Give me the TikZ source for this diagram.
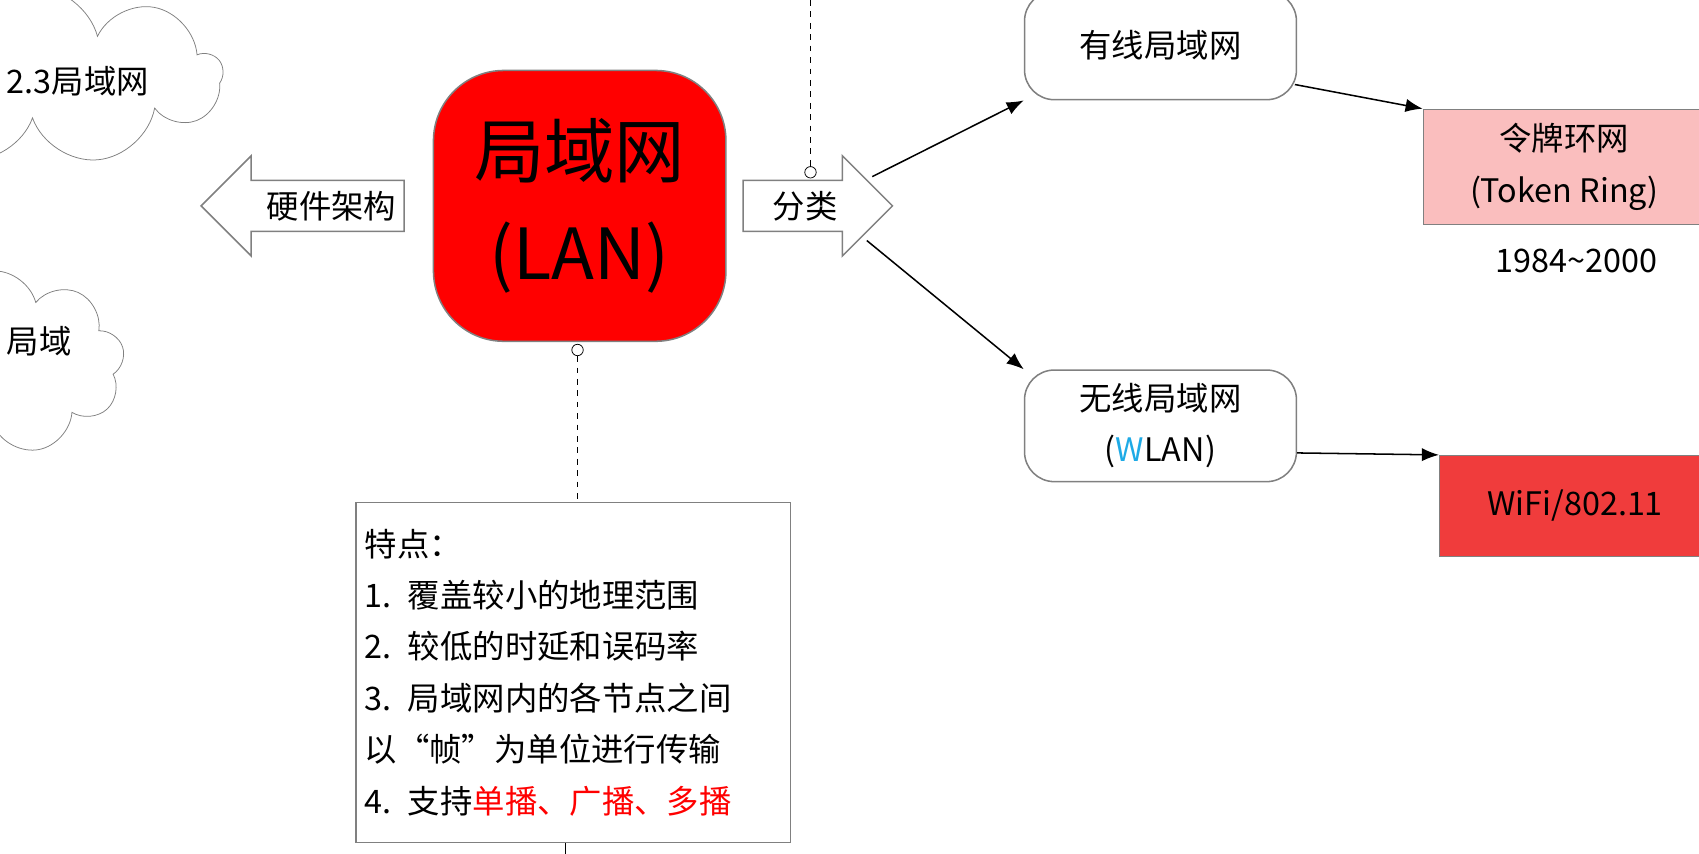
\documentclass[tikz,border=0pt]{standalone}
\usepackage{fontspec}
\setmainfont{Noto Sans CJK SC}
\usetikzlibrary{shapes.symbols,shapes.arrows,arrows.meta}
\definecolor{lanred}{RGB}{255,0,0}
\definecolor{tokpink}{RGB}{250,190,190}
\definecolor{wifired}{RGB}{240,60,60}
\definecolor{wblue}{RGB}{30,170,230}
\begin{document}
\begin{tikzpicture}[x=0.02cm, y=-0.02cm,
	every node/.style={font=\fontsize{17}{27}\selectfont, text=black},
	box/.style={draw=gray, line width=0.8pt},
	rbox/.style={box, rounded corners=0.55cm, fill=white},
	conn/.style={-{Latex[length=9pt,width=7pt]}, line width=0.8pt},
	tag/.style={dashed, line width=0.6pt},
	fat/.style={single arrow, draw=gray, line width=0.8pt, fill=white, single arrow head extend=0.35cm, minimum height=2.8cm, minimum width=1.85cm, inner sep=2pt}]
	\useasboundingbox (0,0) rectangle (1568,788);
	\begin{scope}
	\clip (0,0) rectangle (1568,788);
	% Clouds at the left edge
	\node[cloud, cloud puffs=9, draw=gray, minimum width=7cm, minimum height=3.3cm] (c1) at (30,70) {};
	\node[anchor=west] (t1) at (0,75) {2.3局域网};
	\node[cloud, cloud puffs=9, draw=gray, minimum width=4.8cm, minimum height=3.4cm] (c2) at (-5,335) {};
	\node[anchor=west] (t2) at (0,315) {局域};
	% Central node
	\node[rbox, fill=lanred, rounded corners=1.3cm, minimum width=5.4cm, minimum height=5cm, align=center, font=\fontsize{37}{54}\selectfont] (lan) at (535,190) {局域网\\(LAN)};
	% Fat arrows
	\node[fat, shape border rotate=180, minimum height=3.75cm] (hw) at (291,190) {\hspace{0.6cm}硬件架构};
	\node[fat, minimum height=2.76cm] (cls) at (743,190) {分类\hspace{0.6cm}};
	% Dashed tags
	\coordinate (top) at (748,0);
	\node[circle, draw, inner sep=0pt, minimum size=6pt, fill=white] (o1) at (748,159) {};
	\draw[tag] (top) -- (o1);
	\node[circle, draw, inner sep=0pt, minimum size=6pt, fill=white] (o2) at (533,323) {};
	% Feature box
	\node[box, anchor=north west, minimum width=8.02cm, minimum height=6.28cm, align=left, text width=7.7cm, inner sep=0.15cm] (feat) at (328,463) {特点：\\1. 覆盖较小的地理范围\\2. 较低的时延和误码率\\3. 局域网内的各节点之间\\以“帧”为单位进行传输\\4. 支持\textcolor{red}{单播、广播、多播}};
	\draw[tag] (o2) -- (o2 |- feat.north);
	\coordinate (bot) at (522,788);
	\draw[line width=0.8pt] (bot) -- (bot |- feat.south);
	% Classification
	\node[rbox, minimum width=5.02cm, minimum height=2cm] (wired) at (1071,42) {有线局域网};
	\node[rbox, minimum width=5.02cm, minimum height=2.06cm, align=center] (wlan) at (1071,393) {无线局域网\\(\textcolor{wblue}{W}LAN)};
	\node[box, fill=tokpink, minimum width=5.2cm, minimum height=2.12cm, align=center, anchor=west] (tok) at (1313,154) {令牌环网\\(Token Ring)};
	\node (yr) at (1455,241) {1984\textasciitilde2000};
	\node[box, fill=wifired, minimum width=5cm, minimum height=1.86cm, anchor=west] (wifi) at (1328,467) {WiFi/802.11};
	\coordinate (up) at (805,163);
	\coordinate (dn) at (800,222);
	\coordinate (wo) at (1195,78);
	\coordinate (lo) at (1197,418);
	\draw[conn] (up) -- (wired.south west);
	\draw[conn] (dn) -- (wlan.north west);
	\draw[conn] (wo) -- (tok.north west);
	\draw[conn] (lo) -- (wifi.north west);
	\end{scope}
\end{tikzpicture}
\end{document}
